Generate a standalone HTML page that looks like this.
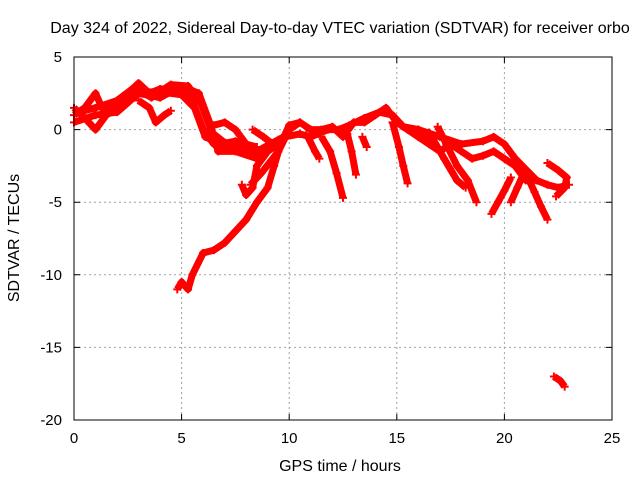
<!DOCTYPE html>
<html><head><meta charset="utf-8"><style>
html,body{margin:0;padding:0;background:#fff;}
svg{display:block;font-family:"Liberation Sans",sans-serif;}
</style></head><body>
<svg id="chart" width="640" height="480" viewBox="0 0 640 480">
<text x="340" y="33" font-size="16" text-anchor="middle" fill="#000">Day 324 of 2022, Sidereal Day-to-day VTEC variation (SDTVAR) for receiver orbo</text>
<g id="grid"></g>
<g id="marks"></g>
<rect x="74" y="57" width="538" height="363" fill="none" stroke="#000" stroke-width="1"/>
<g id="ticks"></g>
<text x="340" y="471" font-size="16" text-anchor="middle">GPS time / hours</text>
<text x="0" y="0" font-size="16" text-anchor="middle" transform="translate(19,238) rotate(-90)">SDTVAR / TECUs</text>
</svg>
<script>
const xTicks=[0,5,10,15,20,25];
const yTicks=[5,0,-5,-10,-15,-20];
const track1=[[0,1.0],[0.5,1.5],[1,2.5],[1.3,1.5],[2,1.5],[2.5,2.5],[3,3.2],[3.5,2.5],[4,2.8],[5,2.8],[5.5,2],[6,0],[6.5,-1],[7.5,-1.3],[8.5,-1.5],[9.5,-0.7],[10,-0.3]];
const track2=[[0,0.5],[1,1],[2,1.2],[3,2.5],[4,2.2],[5,3],[5.8,2.5],[6.3,0.5],[6.7,-1.5],[7.5,-1.5],[8.5,-2],[9,-1.3]];
const track3=[[0,1.5],[0.5,0.8],[1,0],[1.5,1],[2.5,2],[3,2.6],[4,2.6],[5,2.4],[5.6,1.5],[6.1,-0.5],[6.8,-1],[7.5,-0.8],[8.5,-1.2]];
const track3b=[[0.2,1.2],[1,1.5],[2,2],[2.8,2.9],[3.6,2.2],[4.5,3.1],[5.3,3],[5.9,1.8],[6.4,-0.2],[7,-0.9],[8,-1]];
const track4=[[3,2],[3.5,1.5],[3.8,0.5],[4.2,1],[4.5,1.3]];
const track5=[[4.8,-11],[5,-10.5],[5.3,-11],[5.5,-10],[6,-8.5],[6.5,-8.3],[7,-7.8],[7.5,-7],[8,-6.2],[8.5,-5],[9,-4],[9.3,-2.5],[9.6,-1],[10,0.3],[10.5,0.5]];
const track6=[[7.8,-3.8],[8,-4.5],[8.3,-4],[8.5,-2.5],[9,-1.5],[9.5,-1]];
const track7=[[8.2,-3.8],[8.7,-3],[9.5,-1.5]];
const track8=[[6.5,0.3],[7,0.5],[7.5,0],[8,-1]];
const track9=[[8.3,0],[8.8,-0.5],[9.5,-1.3]];
const track10=[[9.5,-1.5],[10,0],[10.5,0.5],[11,0],[11.5,0],[12,0.2],[12.5,-0.5],[13,0.5],[13.5,0.5],[14,1],[14.5,1.5],[15,0.5],[15.5,0],[16,-0.5],[16.5,-1],[17,-1.5],[17.5,-1],[18,-1.5],[18.5,-2],[19,-1.8],[19.5,-1.5],[20,-2],[20.5,-2.5],[21,-3.5],[21.5,-3.5],[22,-3.8],[22.5,-4],[23,-3.8]];
const track11=[[9.8,-0.5],[10.5,-0.3],[11,-0.5],[11.8,0],[12.3,0],[12.8,0.3],[13.5,0.8],[14.2,1.2],[14.8,1],[15.3,0.2],[16,0],[16.8,-1]];
const track12=[[11.5,-0.5],[11.9,-1.5],[12.2,-3],[12.5,-4.7]];
const track13=[[10.8,-0.3],[11.2,-1.5],[11.4,-2]];
const track14=[[12.7,-0.3],[12.9,-1.5],[13.1,-3.1]];
const track15=[[13.4,-0.5],[13.6,-1.2]];
const track16=[[14.8,0.5],[15.1,-1.2],[15.3,-2.5],[15.5,-3.7]];
const track17=[[16.9,0.2],[17.3,-1],[17.8,-2.5],[18.3,-3.5],[18.7,-5]];
const track18=[[16.5,-0.2],[17.2,-2],[17.8,-3.5],[18.2,-4]];
const track19=[[16,0],[17,-0.5],[18,-1],[19,-0.8],[19.5,-0.5],[20,-1],[20.5,-2],[21.5,-3.5]];
const track20=[[20.3,-3.3],[20,-4.2],[19.7,-5],[19.4,-5.8]];
const track21=[[20.9,-3],[20.6,-4],[20.3,-5]];
const track22=[[21,-3],[21.4,-4.3],[21.7,-5.3],[22,-6.2]];
const track23=[[22,-2.3],[22.5,-2.8],[22.9,-3.3],[22.8,-4],[22.4,-4.6]];
const track24=[[22.3,-17],[22.6,-17.3],[22.8,-17.7]];
const tracks=[track1,track2,track3,track3b,track4,track5,track6,track7,track8,track9,track10,track11,track12,track13,track14,track15,track16,track17,track18,track19,track20,track21,track22,track23,track24];

const NS='http://www.w3.org/2000/svg';
const X0=74,X1=612,Y0=420,Y1=57;
function sx(t){return X0+(t-0)/(25-0)*(X1-X0);}
function sy(v){return Y0-(v-(-20))/(5-(-20))*(Y0-Y1);}
const grid=document.getElementById('grid');
const ticks=document.getElementById('ticks');
xTicks.forEach(t=>{
  const x=sx(t);
  if(t>0&&t<25){
    const g=document.createElementNS(NS,'line');
    
    
    g.setAttribute('x1',x);g.setAttribute('x2',x);g.setAttribute('y1',Y1);g.setAttribute('y2',Y0);
    g.setAttribute('stroke','#a0a0a0');g.setAttribute('stroke-dasharray','2,3');
    grid.appendChild(g);
  }
  const tk=document.createElementNS(NS,'path');
  
  
  tk.setAttribute('d',`M${x},${Y0}v-6M${x},${Y1}v6`);tk.setAttribute('stroke','#000');
  ticks.appendChild(tk);
  const lb=document.createElementNS(NS,'text');
  
  
  lb.setAttribute('x',x);lb.setAttribute('y',443);lb.setAttribute('font-size','15');lb.setAttribute('text-anchor','middle');
  lb.textContent=t;ticks.appendChild(lb);
});
yTicks.forEach(v=>{
  const y=sy(v);
  if(v>-20&&v<5){
    const g=document.createElementNS(NS,'line');
    
    
    g.setAttribute('x1',X0);g.setAttribute('x2',X1);g.setAttribute('y1',y);g.setAttribute('y2',y);
    g.setAttribute('stroke','#a0a0a0');g.setAttribute('stroke-dasharray','2,3');
    grid.appendChild(g);
  }
  const tk=document.createElementNS(NS,'path');
  
  
  tk.setAttribute('d',`M${X0},${y}h6M${X1},${y}h-6`);tk.setAttribute('stroke','#000');
  ticks.appendChild(tk);
  const lb=document.createElementNS(NS,'text');
  
  
  lb.setAttribute('x',62);lb.setAttribute('y',y+5);lb.setAttribute('font-size','15');lb.setAttribute('text-anchor','end');
  lb.textContent=v;ticks.appendChild(lb);
});
const marks=document.getElementById('marks');
tracks.forEach(tr=>{
  const pl=document.createElementNS(NS,'polyline');
  
  
  pl.setAttribute('points',tr.map(p=>sx(p[0])+','+sy(p[1])).join(' '));
  pl.setAttribute('fill','none');pl.setAttribute('stroke','#f00');pl.setAttribute('stroke-width','7');
  pl.setAttribute('stroke-linejoin','round');
  marks.appendChild(pl);
  tr.forEach(p=>{
    const m=document.createElementNS(NS,'path');
    
    
    const x=sx(p[0]),y=sy(p[1]);
    m.setAttribute('d',`M${x-4},${y}h8M${x},${y-4}v8`);
    m.setAttribute('stroke','#f00');m.setAttribute('stroke-width','2');
    marks.appendChild(m);
  });
});
</script>
</body></html>
